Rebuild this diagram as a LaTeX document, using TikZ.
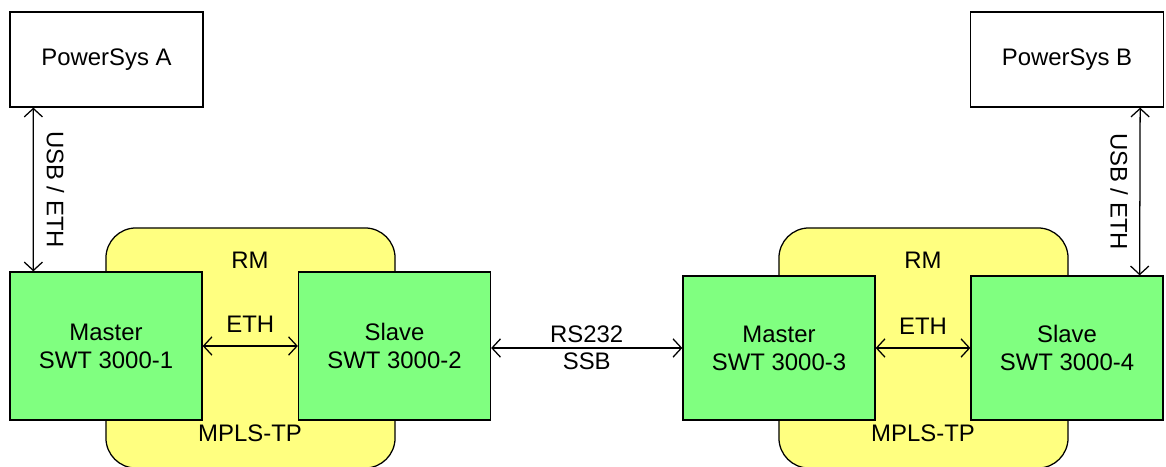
\documentclass[tikz,border=0pt]{standalone}
\usepackage{fontspec}
\setmainfont{Liberation Sans}
\usetikzlibrary{arrows.meta,positioning}

\definecolor{rmyellow}{HTML}{FFFF80}
\definecolor{swtgreen}{HTML}{80FF80}

\tikzset{
    sysbox/.style={draw, line width=0.9pt, fill=white, minimum width=4.825cm, minimum height=2.375cm},
    swtbox/.style={draw, line width=0.9pt, fill=swtgreen, minimum width=4.8cm, align=center},
    rmbox/.style={draw, line width=0.9pt, fill=rmyellow, rounded corners=0.75cm, minimum width=7.225cm, minimum height=6cm},
    link/.style={line width=0.9pt, {Straight Barb[length=6pt,width=13pt]}-{Straight Barb[length=6pt,width=13pt]}}
}

\begin{document}
\begin{tikzpicture}[x=0.025cm, y=-0.025cm, font=\fontsize{17}{20}\selectfont]
        \useasboundingbox (0,0) rectangle (1166,467);
        % Redundancy modules
        \node [rmbox] (rmA) at (250.5,348) {};
        \node [rmbox] (rmB) at (923.5,348) {};
        \node (rmlabA) at (250,260) {RM};
        \node (rmlabB) at (923,260) {RM};
        \node (mplsA) at (250,433) {MPLS-TP};
        \node (mplsB) at (923,433) {MPLS-TP};
        % Power systems
        \node [sysbox] (psA) at (106.5,59.5) {PowerSys A};
        \node [sysbox] (psB) at (1067,59.5) {PowerSys B};
        % SWT devices
        \node [swtbox, minimum height=3.7cm] (swt1) at (106,346) {Master\\SWT 3000-1};
        \node [swtbox, minimum height=3.7cm] (swt2) at (394.5,346) {Slave\\SWT 3000-2};
        \node [swtbox, minimum height=3.6cm] (swt3) at (779,348) {Master\\SWT 3000-3};
        \node [swtbox, minimum height=3.6cm] (swt4) at (1067,348) {Slave\\SWT 3000-4};
        % Links
        \draw [link] ([xshift=0.6cm]psA.south west) -- ([xshift=0.6cm]swt1.north west)
            node [midway, rotate=-90, anchor=south, inner ysep=9pt] {USB / ETH};
        \draw [link] ([xshift=-0.6cm]psB.south east) -- ([xshift=-0.6cm]swt4.north east)
            node [midway, rotate=-90, anchor=north, inner ysep=8pt] {USB / ETH};
        \draw [link] (swt1.east) -- (swt2.west) node [midway, above=6pt] {ETH};
        \draw [link] (swt3.east) -- (swt4.west) node [midway, above=6pt] {ETH};
        \draw [link] (swt2.east |- swt3.west) -- (swt3.west)
            node [midway, above, inner sep=3pt] {RS232}
            node [midway, below, inner sep=3pt] {SSB};
\end{tikzpicture}
\end{document}
